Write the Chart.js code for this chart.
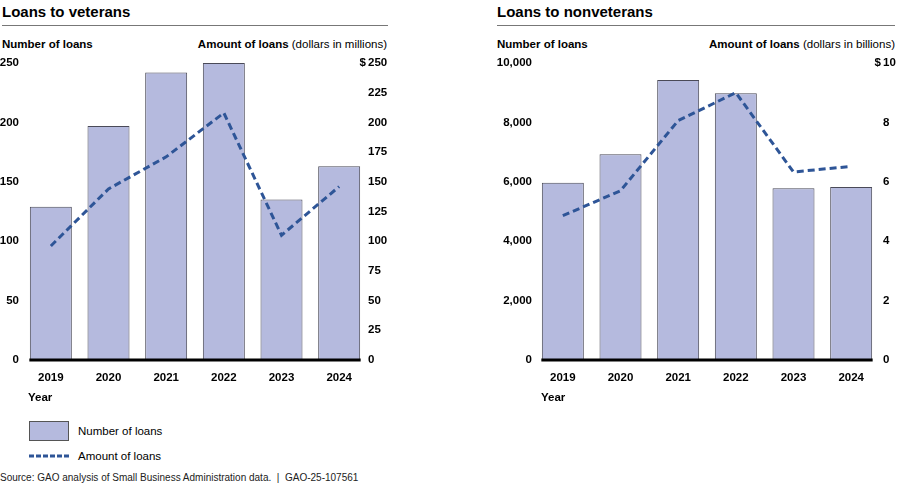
<!DOCTYPE html>
<html>
<head>
<meta charset="utf-8">
<script src="https://cdn.jsdelivr.net/npm/chart.js@4.4.1/dist/chart.umd.min.js"></script>
<style>
  html, body { margin:0; padding:0; background:#fff; }
  body { width:899px; height:484px; position:relative; overflow:hidden; font-family:"Liberation Sans", Arial, sans-serif; color:#000; }
  .abs { position:absolute; white-space:nowrap; }
  .title { font-size:15px; font-weight:bold; line-height:18px; }
  .rule { height:0; border-top:1px solid #777; }
  .axt { font-size:11.5px; font-weight:bold; line-height:14px; }
  .axt span { font-weight:normal; }
  .leg { font-size:11.5px; line-height:14px; }
  .src { font-size:10px; line-height:13px; color:#222; }
  canvas { position:absolute; }
</style>
</head>
<body>
<div class="abs title" style="left:2px;top:3px;">Loans to veterans</div>
<div class="abs rule" style="left:2px;top:25px;width:386px;"></div>
<div class="abs title" style="left:497px;top:3px;">Loans to nonveterans</div>
<div class="abs rule" style="left:497px;top:25px;width:398px;"></div>

<div class="abs axt" style="left:2px;top:37px;">Number of loans</div>
<div class="abs axt" style="left:0;top:37px;width:387px;text-align:right;">Amount of loans <span>(dollars in millions)</span></div>
<div class="abs axt" style="left:497px;top:37px;">Number of loans</div>
<div class="abs axt" style="left:490px;top:37px;width:405px;text-align:right;">Amount of loans <span>(dollars in billions)</span></div>

<canvas id="c1" width="400" height="360" style="left:0;top:50px;width:400px;height:360px;"></canvas>
<canvas id="c2" width="419" height="360" style="left:480px;top:50px;width:419px;height:360px;"></canvas>

<div class="abs axt" style="left:28px;top:390px;">Year</div>
<div class="abs axt" style="left:541px;top:390px;">Year</div>

<div class="abs" style="left:29px;top:421px;width:38px;height:18px;background:#b5bade;border:1px solid #555;"></div>
<div class="abs leg" style="left:78px;top:424px;">Number of loans</div>
<svg class="abs" style="left:29px;top:453px;" width="41" height="6"><line x1="0" y1="3" x2="41" y2="3" stroke="#2e5597" stroke-width="3" stroke-dasharray="5,2"/></svg>
<div class="abs leg" style="left:78px;top:449px;">Amount of loans</div>

<div class="abs src" style="left:0;top:471px;">Source: GAO analysis of Small Business Administration data.&nbsp; |&nbsp; GAO-25-107561</div>

<script>
// ---- data ----
const years = ["2019", "2020", "2021", "2022", "2023", "2024"];
const vetLoanCount = [129, 197, 242, 250, 135, 163];
const vetLoanAmountMillions = [96, 144, 171, 208, 105, 146];
const nonvetLoanCount = [5970, 6930, 9430, 8980, 5780, 5825];
const nonvetLoanAmountBillions = [4.86, 5.70, 8.06, 9.0, 6.33, 6.52];

const vetCountTicks = { min: 0, max: 250, step: 50 };
const vetAmountTicks = { min: 0, max: 250, step: 25 };
const nonvetCountTicks = { min: 0, max: 10000, step: 2000 };
const nonvetAmountTicks = { min: 0, max: 10, step: 2 };

// ---- styles ----
const BAR_FILL = '#b5bade';
const BAR_BORDER = '#4a4a58';
const LINE_COLOR = '#2e5597';
const FONT = '"Liberation Sans", Arial, sans-serif';
const tickFont = { family: FONT, size: 11.5, weight: 'bold' };

Chart.defaults.font.family = FONT;
Chart.defaults.color = '#000';

const baselinePlugin = {
  id: 'baseline',
  afterDatasetsDraw(chart) {
    const idx = chart.data.datasets.findIndex(d => d.type === 'bar');
    const bars = chart.getDatasetMeta(idx).data;
    if (!bars.length) return;
    const first = bars[0], last = bars[bars.length - 1];
    const x0 = first.x - first.width / 2 - 0.5;
    const x1 = last.x + last.width / 2 + 0.5;
    const y = chart.chartArea.bottom;
    const ctx = chart.ctx;
    ctx.save();
    ctx.strokeStyle = '#000';
    ctx.lineWidth = 3;
    ctx.beginPath();
    ctx.moveTo(x0, y);
    ctx.lineTo(x1, y);
    ctx.stroke();
    ctx.restore();
  }
};

const dollarPlugin = {
  id: 'dollar',
  afterDraw(chart) {
    const s = chart.scales.y2;
    const ctx = chart.ctx;
    ctx.save();
    ctx.font = 'bold 11.5px ' + FONT;
    ctx.fillStyle = '#000';
    ctx.textAlign = 'right';
    ctx.textBaseline = 'middle';
    ctx.fillText('$', s.left + s.options.ticks.padding - 2, s.getPixelForValue(s.max));
    ctx.restore();
  }
};

function makeChart(id, counts, amounts, cTicks, aTicks, dims) {
  const fmt = v => Number(v).toLocaleString('en-US');
  return new Chart(document.getElementById(id), {
    type: 'bar',
    data: {
      labels: years,
      datasets: [
        {
          type: 'line',
          label: 'Amount of loans',
          data: amounts,
          yAxisID: 'y2',
          borderColor: LINE_COLOR,
          borderWidth: 3,
          borderDash: [7, 4],
          pointRadius: 0,
          tension: 0,
          fill: false,
          order: 0
        },
        {
          type: 'bar',
          label: 'Number of loans',
          data: counts,
          yAxisID: 'y',
          backgroundColor: BAR_FILL,
          borderColor: BAR_BORDER,
          borderWidth: 1,
          borderSkipped: 'bottom',
          barPercentage: 0.728,
          categoryPercentage: 1,
          order: 1
        }
      ]
    },
    options: {
      responsive: false,
      animation: false,
      devicePixelRatio: 1,
      layout: { padding: { top: 13, left: 0, right: 0, bottom: 0 } },
      plugins: { legend: { display: false }, tooltip: { enabled: false } },
      scales: {
        x: {
          offset: true,
          grid: { display: false, drawTicks: false },
          border: { display: false },
          ticks: { font: tickFont, color: '#000', padding: 11, maxRotation: 0 },
          afterFit: s => { s.height = 50; }
        },
        y: {
          position: 'left',
          min: cTicks.min, max: cTicks.max,
          grid: { display: false, drawTicks: false },
          border: { display: false },
          ticks: { stepSize: cTicks.step, font: tickFont, color: '#000', padding: dims.lpad, callback: fmt },
          afterFit: s => { s.width = dims.lw; }
        },
        y2: {
          position: 'right',
          min: aTicks.min, max: aTicks.max,
          grid: { display: false, drawTicks: false },
          border: { display: false },
          ticks: { stepSize: aTicks.step, font: tickFont, color: '#000', padding: dims.rpad, callback: fmt },
          afterFit: s => { s.width = dims.rw; }
        }
      }
    },
    plugins: [baselinePlugin, dollarPlugin]
  });
}

makeChart('c1', vetLoanCount, vetLoanAmountMillions, vetCountTicks, vetAmountTicks, { lw: 22, lpad: 3, rw: 32, rpad: 0 });
makeChart('c2', nonvetLoanCount, nonvetLoanAmountBillions, nonvetCountTicks, nonvetAmountTicks, { lw: 54, lpad: 2, rw: 19, rpad: 3 });
</script>
</body>
</html>
